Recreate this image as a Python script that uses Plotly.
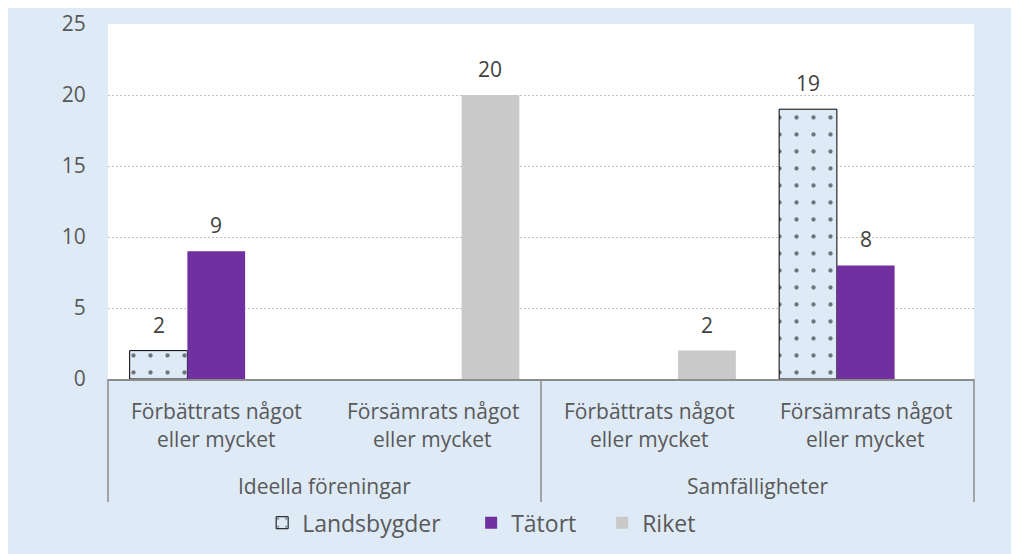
import plotly.graph_objects as go

groups = ["Ideella föreningar", "Ideella föreningar", "Samfälligheter", "Samfälligheter"]
subcats = ["Förbättrats något eller mycket", "Försämrats något eller mycket",
           "Förbättrats något eller mycket", "Försämrats något eller mycket"]
series_names = ["Landsbygder", "Tätort", "Riket"]
landsbygder = [2, None, None, 19]
tatort = [9, None, None, 8]
riket = [None, 20, 2, None]

FONT = "Open Sans"
FS = 21
TXT = "#595959"
AXIS = "#8C8C8C"
BARGAP = 0.2

fig = go.Figure()
fig.add_trace(go.Bar(
    name=series_names[0], x=[groups, subcats], y=landsbygder, legendwidth=164,
    marker=dict(color="#DEEBF7", line=dict(color="#000000", width=1),
                pattern=dict(shape=".", fgcolor="#000000", bgcolor="#DEEBF7", size=17, solidity=0.05)),
))
fig.add_trace(go.Bar(
    name=series_names[1], x=[groups, subcats], y=tatort, legendwidth=86,
    marker=dict(color="#7030A0", line=dict(width=0)),
))
fig.add_trace(go.Bar(
    name=series_names[2], x=[groups, subcats], y=riket,
    marker=dict(color="#C9C9C9", line=dict(width=0)),
))

ncat = len(subcats)
nser = 3
w = (1 - BARGAP) / nser
annotations = []
# value labels above bars
for k, vals in enumerate([landsbygder, tatort, riket]):
    for j, v in enumerate(vals):
        if v is None:
            continue
        xc = j + (k - (nser - 1) / 2) * w
        annotations.append(dict(
            x=(xc + 0.5) / ncat, xref="paper", xanchor="center", y=v, yref="y",
            text=str(v), showarrow=False, yanchor="middle", yshift=26,
            font=dict(family=FONT, size=FS, color="#404040")))
# category labels
for j, s in enumerate(subcats):
    first, second = s.split(" eller ")
    annotations.append(dict(x=(j + 0.5) / ncat, xref="paper", xanchor="center", y=0, yref="paper",
                            text=first, showarrow=False, yanchor="middle", yshift=-32,
                            font=dict(family=FONT, size=FS, color=TXT)))
    annotations.append(dict(x=(j + 0.5) / ncat, xref="paper", xanchor="center", y=0, yref="paper",
                            text="eller " + second, showarrow=False, yanchor="middle", yshift=-60,
                            font=dict(family=FONT, size=FS, color=TXT)))
# group labels
unique_groups = list(dict.fromkeys(groups))
for g in unique_groups:
    idx = [i for i, gg in enumerate(groups) if gg == g]
    xc = (min(idx) + max(idx) + 1) / 2 / ncat
    annotations.append(dict(x=xc, xref="paper", xanchor="center", y=0, yref="paper",
                            text=g, showarrow=False, yanchor="middle", yshift=-107,
                            font=dict(family=FONT, size=FS, color=TXT)))

# dividers between groups
shapes = []
bounds = [0]
for i in range(1, ncat):
    if groups[i] != groups[i - 1]:
        bounds.append(i)
bounds.append(ncat)
for b in bounds:
    shapes.append(dict(type="line", xref="paper", yref="paper", x0=b / ncat, x1=b / ncat,
                       y0=0, y1=-123 / 355, line=dict(color=AXIS, width=1.5)))

fig.update_layout(
    width=1019, height=554,
    paper_bgcolor="#DEEAF6", plot_bgcolor="#FFFFFF",
    margin=dict(l=100, r=53, t=16, b=183, autoexpand=False),
    barmode="group", bargap=BARGAP, bargroupgap=0,
    font=dict(family=FONT, size=FS, color=TXT),
    annotations=annotations, shapes=shapes,
    legend=dict(orientation="h", x=0.178, xanchor="left", y=-0.405, yanchor="middle",
                font=dict(family=FONT, size=23, color=TXT), bgcolor="rgba(0,0,0,0)",
                itemwidth=30, tracegroupgap=0),
    xaxis=dict(type="multicategory", showline=True, linecolor=AXIS, linewidth=1.5,
               showgrid=False, showdividers=False, showticklabels=False, ticks="",
               automargin=False),
    yaxis=dict(range=[0, 25], dtick=5, showgrid=True, gridcolor="#BFBFBF", griddash="2px,2px",
               gridwidth=1, zeroline=False, showline=False, automargin=False,
               ticks="outside", ticklen=17, tickcolor="rgba(0,0,0,0)",
               tickfont=dict(family=FONT, size=FS, color=TXT)),
)

fig.write_html("out.html")
